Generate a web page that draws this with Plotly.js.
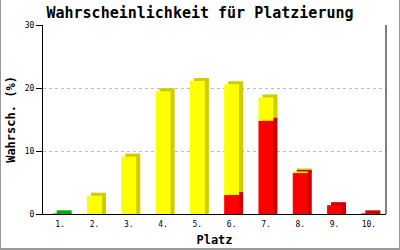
<!DOCTYPE html>
<html>
<head>
<meta charset="utf-8">
<script src="https://cdn.plot.ly/plotly-3.0.1.min.js"></script>
<style>
html,body{margin:0;padding:0;background:#fff;}
#frame{position:absolute;left:0;top:0;width:398px;height:248px;border-left:1px solid #999;border-right:1px solid #999;border-bottom:2px solid #999;overflow:hidden;}
#chart{position:absolute;left:-1px;top:0;width:400px;height:250px;}
</style>
</head>
<body>
<div id="frame"><div id="chart"></div></div>
<script>
// Data
const categories = ["1.", "2.", "3.", "4.", "5.", "6.", "7.", "8.", "9.", "10."];
const greenValues  = [0.1, 0, 0, 0, 0, 0, 0, 0, 0, 0];
const redValues    = [0, 0, 0, 0, 0, 3.0, 14.8, 6.5, 1.4, 0.1];
const yellowValues = [0, 2.9, 9.1, 19.5, 21.1, 17.6, 3.7, 0.25, 0, 0];

// Styling / geometry (3D look)
const faceWidth = 0.437;     // category units (~15px)
const depthX = 0.117;        // ~4px shift to the right
const depthY = 0.48;         // ~3px shift upward (value units)

const series = [
  {vals: greenValues,  face: "#00cc00", side: "#00aa00"},
  {vals: redValues,    face: "#ff0000", side: "#cc0000"},
  {vals: yellowValues, face: "#ffff00", side: "#cccc00"}
];

// stacking bases
let acc = categories.map(() => 0);
series.forEach(s => {
  s.base = acc.slice();
  acc = acc.map((a, i) => a + s.vals[i]);
});

// side/top (depth) traces: drawn top series first so lower ones overlap
const depthTraces = series.slice().reverse().map(s => ({
  type: "bar", x: categories,
  y: s.vals.map(v => v > 0 ? v + depthY : 0),
  base: s.base,
  width: faceWidth, offset: -faceWidth / 2 + depthX,
  marker: {color: s.side, line: {width: 0}},
  hoverinfo: "skip"
}));
const faceTraces = series.map(s => ({
  type: "bar", x: categories, y: s.vals,
  base: s.base,
  width: faceWidth, offset: -faceWidth / 2,
  marker: {color: s.face, line: {width: 0}}
}));

const mono = "DejaVu Sans Mono, Liberation Mono, monospace";
const layout = {
  width: 400, height: 250,
  margin: {l: 43, r: 14, t: 25, b: 36},
  paper_bgcolor: "#fff", plot_bgcolor: "#fff",
  barmode: "overlay",
  showlegend: false,
  title: {text: "<b>Wahrscheinlichkeit für Platzierung</b>", x: 0.5, xanchor: "center", y: 0.948, yanchor: "middle",
          font: {family: mono, size: 15, color: "#000"}},
  xaxis: {
    type: "category", range: [-0.5, 9.5],
    showline: true, linecolor: "#000", linewidth: 1,
    ticks: "outside", ticklen: 2, tickcolor: "rgba(0,0,0,0)", showgrid: false, zeroline: false,
    tickfont: {family: mono, size: 8, color: "#000"},
    title: {text: "<b>Platz</b>", font: {family: mono, size: 12, color: "#000"}, standoff: 8}
  },
  yaxis: {
    range: [0, 30], tickvals: [0, 10, 20, 30],
    showline: true, linecolor: "#000", linewidth: 1,
    ticks: "outside", ticklen: 6, tickcolor: "#000",
    showgrid: true, gridcolor: "#bbbbbb", griddash: "dot", gridwidth: 1,
    zeroline: false,
    tickfont: {family: mono, size: 8, color: "#000"},
    title: {text: "<b>Wahrsch. (%)</b>", font: {family: mono, size: 12, color: "#000"}, standoff: 6}
  },
  shapes: [
    {type: "line", xref: "paper", yref: "paper", x0: 1, x1: 1, y0: 0, y1: 1,
     line: {color: "#000", width: 1}, layer: "above"}
  ]
};

Plotly.newPlot("chart", depthTraces.concat(faceTraces), layout, {staticPlot: true, displayModeBar: false});
</script>
</body>
</html>
